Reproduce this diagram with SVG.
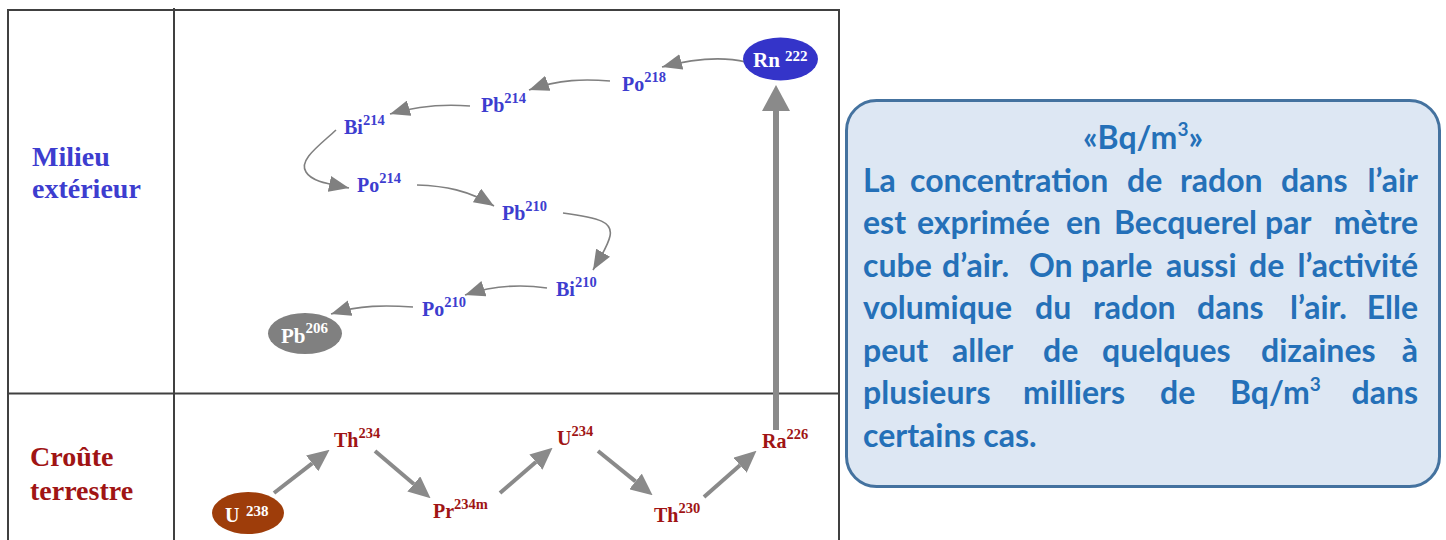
<svg xmlns="http://www.w3.org/2000/svg" width="1446" height="540" viewBox="0 0 1446 540">
<defs>
<style>
.grid{stroke:#404040;stroke-width:2;fill:none}
.lab{font-family:"Liberation Serif","Times New Roman",serif;font-weight:bold}
.blue{fill:#3d3dcf}
.red{fill:#a01414}
.white{fill:#ffffff}
.n{font-size:20px}
.s{font-size:14.5px}
.side{font-size:28px}
.thin{fill:none;stroke:#808080;stroke-width:1.6}
.thick{fill:none;stroke:#8a8a8a;stroke-width:4}
.box{font-family:Lato,"Open Sans","Liberation Sans",sans-serif;font-weight:bold;font-size:32px;fill:#2470b8}
</style>
<marker id="ah" markerUnits="userSpaceOnUse" viewBox="0 0 20 16" markerWidth="20" markerHeight="16" refX="20" refY="8" orient="auto">
<path d="M0,0 L20,8 L0,16 z" fill="#808080"/>
</marker>
<marker id="ahb" markerUnits="userSpaceOnUse" viewBox="0 0 22 20" markerWidth="22" markerHeight="20" refX="0" refY="10" orient="auto">
<path d="M0,0 L22,10 L0,20 z" fill="#8a8a8a"/>
</marker>
<marker id="ahv" markerUnits="userSpaceOnUse" viewBox="0 0 26 28" markerWidth="26" markerHeight="28" refX="0" refY="14" orient="auto">
<path d="M0,0 L26,14 L0,28 z" fill="#8a8a8a"/>
</marker>
</defs>
<rect width="1446" height="540" fill="#ffffff"/>

<g id="table">
<path class="grid" d="M8,540 L8,10 L839,10 L839,540"/>
<path class="grid" d="M174,8 L174,540"/>
<path class="grid" d="M8,393.5 L839,393.5"/>
</g>

<g id="side-labels">
<text class="lab side blue" x="32" y="166">Milieu</text>
<text class="lab side blue" x="32" y="198">extérieur</text>
<text class="lab side red" x="30" y="466">Croûte</text>
<text class="lab side red" x="30" y="500">terrestre</text>
</g>

<g id="connectors">
<path class="thin" marker-end="url(#ah)" d="M746,62 C725,57 700,57 662,67"/>
<path class="thin" marker-end="url(#ah)" d="M610,81 C585,79 560,79 529,90"/>
<path class="thin" marker-end="url(#ah)" d="M470,106 C445,104 420,105 390,114"/>
<path class="thin" marker-end="url(#ah)" d="M336,130 C320,145 298,160 306,172 C312,182 330,184 349,188"/>
<path class="thin" marker-end="url(#ah)" d="M417,185 C445,186 468,190 494,206"/>
<path class="thin" marker-end="url(#ah)" d="M563,213 C600,218 613,222 610,236 C608,246 600,258 593,270"/>
<path class="thin" marker-end="url(#ah)" d="M547,288 C520,284 495,285 465,295"/>
<path class="thin" marker-end="url(#ah)" d="M413,307 C385,305 360,305 331,314"/>
<path class="thick" marker-end="url(#ahb)" d="M274,493 L312.2,463.3"/>
<path class="thick" marker-end="url(#ahb)" d="M375,451 L413.8,484"/>
<path class="thick" marker-end="url(#ahb)" d="M500,493 L535.9,462.1"/>
<path class="thick" marker-end="url(#ahb)" d="M598,451 L635.5,481.4"/>
<path class="thick" marker-end="url(#ahb)" d="M704,497 L740,465.2"/>
<path fill="none" stroke="#8a8a8a" stroke-width="6" marker-end="url(#ahv)" d="M776,430 L776,111"/>
</g>

<g id="rn222">
<ellipse cx="780.5" cy="59" rx="37.5" ry="21.5" fill="#3434c9"/>
<text class="lab white" x="753" y="67" font-size="21">Rn</text>
<text class="lab white" x="785" y="61" font-size="15">222</text>
</g>
<g id="po218"><text class="lab n blue" x="622" y="91">Po<tspan class="s" dy="-9">218</tspan></text></g>
<g id="pb214"><text class="lab n blue" x="481" y="112">Pb<tspan class="s" dy="-9">214</tspan></text></g>
<g id="bi214"><text class="lab n blue" x="344" y="134">Bi<tspan class="s" dy="-9">214</tspan></text></g>
<g id="po214"><text class="lab n blue" x="357" y="192">Po<tspan class="s" dy="-9">214</tspan></text></g>
<g id="pb210"><text class="lab n blue" x="502" y="220">Pb<tspan class="s" dy="-9">210</tspan></text></g>
<g id="bi210"><text class="lab n blue" x="556" y="296">Bi<tspan class="s" dy="-9">210</tspan></text></g>
<g id="po210"><text class="lab n blue" x="422" y="316">Po<tspan class="s" dy="-9">210</tspan></text></g>
<g id="pb206">
<ellipse cx="305" cy="333.5" rx="37" ry="20.5" fill="#808080"/>
<text class="lab white" x="281" y="343" font-size="21">Pb<tspan font-size="15" dy="-10">206</tspan></text>
</g>

<g id="u238">
<ellipse cx="248" cy="513" rx="36" ry="21" fill="#9e3d0a"/>
<text class="lab white" x="225" y="522" font-size="20">U</text>
<text class="lab white" x="246" y="516" font-size="15">238</text>
</g>
<g id="th234"><text class="lab n red" x="334" y="447">Th<tspan class="s" dy="-9">234</tspan></text></g>
<g id="pr234m"><text class="lab n red" x="433" y="518">Pr<tspan class="s" dy="-9">234m</tspan></text></g>
<g id="u234"><text class="lab n red" x="557" y="445">U<tspan class="s" dy="-9">234</tspan></text></g>
<g id="th230"><text class="lab n red" x="654" y="522">Th<tspan class="s" dy="-9">230</tspan></text></g>
<g id="ra226"><text class="lab n red" x="762" y="448">Ra<tspan class="s" dy="-9">226</tspan></text></g>

<g id="info-box">
<rect x="846.5" y="100.5" width="593" height="386" rx="30" ry="30" fill="#dde7f3" stroke="#44729f" stroke-width="3"/>
<text class="box" x="1143" y="149" text-anchor="middle">«Bq/m<tspan font-size="19" dy="-13">3</tspan><tspan dy="13">»</tspan></text>
<text class="box" y="192"><tspan x="863">La</tspan><tspan x="910">concentration</tspan><tspan x="1127">de</tspan><tspan x="1180">radon</tspan><tspan x="1281">dans</tspan></text>
<text class="box" x="1418" y="192" text-anchor="end">l’air</text>
<text class="box" y="234"><tspan x="863">est</tspan><tspan x="917">exprimée</tspan><tspan x="1066">en</tspan><tspan x="1114">Becquerel</tspan><tspan x="1265">par</tspan></text>
<text class="box" x="1418" y="234" text-anchor="end">mètre</text>
<text class="box" y="277"><tspan x="863">cube</tspan><tspan x="942">d’air.</tspan><tspan x="1029">On</tspan><tspan x="1081">parle</tspan><tspan x="1166">aussi</tspan><tspan x="1249">de</tspan></text>
<text class="box" x="1418" y="277" text-anchor="end">l’activité</text>
<text class="box" y="319"><tspan x="863">volumique</tspan><tspan x="1035">du</tspan><tspan x="1093">radon</tspan><tspan x="1197">dans</tspan><tspan x="1290">l’air.</tspan></text>
<text class="box" x="1418" y="319" text-anchor="end">Elle</text>
<text class="box" y="362"><tspan x="863">peut</tspan><tspan x="952">aller</tspan><tspan x="1043">de</tspan><tspan x="1102">quelques</tspan><tspan x="1261">dizaines</tspan></text>
<text class="box" x="1418" y="362" text-anchor="end">à</text>
<text class="box" y="404"><tspan x="863">plusieurs</tspan><tspan x="1023">milliers</tspan><tspan x="1160">de</tspan><tspan x="1230">Bq/m</tspan><tspan font-size="19" dy="-13">3</tspan></text>
<text class="box" x="1418" y="404" text-anchor="end">dans</text>
<text class="box" x="863" y="447">certains cas.</text>
</g>
</svg>
